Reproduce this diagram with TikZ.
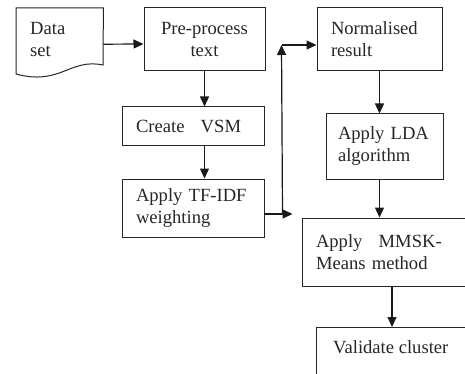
\documentclass[tikz,border=0pt]{standalone}
\usepackage{fontspec}
\setmainfont{Liberation Serif}
\usetikzlibrary{arrows.meta,calc}
\begin{document}
\begin{tikzpicture}[x=1pt,y=-1pt,
  every node/.style={font=\fontsize{18.6}{22}\selectfont, text=black!85},
  box/.style={draw=black!85, line width=1pt, rectangle, inner ysep=0pt},
  lbox/.style={box, align=left, inner xsep=14pt},
  cbox/.style={box, align=center},
  conn/.style={line width=1.2pt, black!90, -{Triangle[length=10pt,width=9pt]}},
  plain/.style={line width=1.2pt, black!90}]
\useasboundingbox (0,0) rectangle (465,374);
\clip (0,0) rectangle (465,374);
% Data set (document shape)
\node[rectangle, minimum width=87pt, minimum height=57pt, inner sep=0pt, anchor=north west] (data) at (16,8) {};
\draw[line width=1pt, black!85] (data.north west) -- (data.north east) -- (103,65)
  .. controls (70,58) and (60,86) .. (16,74) -- cycle;
\node[anchor=base west, inner sep=0pt, align=left] (datatxt) at (30,57) {Data\\set};
% boxes
\node[cbox, minimum width=121pt, minimum height=63pt] (pre) at (204.5,39.5) {Pre-process\\text};
\node[lbox, minimum width=125pt, minimum height=63pt, text width=97pt] (norm) at (379.5,39.5) {Normalised\\result};
\node[lbox, minimum width=142pt, minimum height=39pt, text width=114pt] (vsm) at (193,126.5) {Create\hspace{10pt} VSM};
\node[lbox, minimum width=142pt, minimum height=58pt, text width=114pt] (tfidf) at (193,208) {Apply TF-IDF\\weighting};
\node[lbox, inner xsep=12pt, minimum width=117pt, minimum height=65pt, text width=93pt] (lda) at (384.5,146.5) {Apply LDA\\algorithm};
\node[lbox, minimum width=163pt, minimum height=68pt, text width=135pt] (mmsk) at (383.5,252) {Apply\hspace{10pt} MMSK-\\Means method};
\node[box, minimum width=164pt, minimum height=63pt, anchor=north west] (valid) at (316,327) {};
\node[anchor=base west, inner sep=0pt] (validtxt) at (333,353) {Validate cluster};
% connectors
\draw[conn] ($(data.east)+(0,7.5)$) -- ($(pre.west)+(0,4.5)$);
\draw[conn] (pre.south) -- (pre.south |- vsm.north);
\draw[conn] (vsm.south -| pre.south) -- (tfidf.north -| pre.south);
\coordinate (j1) at ($(tfidf.east)+(18,6)$);
\coordinate (j2) at ($(norm.west)+(-35,5.5)$);
\coordinate (jend) at ($(tfidf.east)+(28,6)$);
\draw[conn] ($(tfidf.east)+(0,6)$) -- (jend);
\draw[conn] (j1) -- (j2);
\draw[conn] (j2) -- ($(norm.west)+(0,5.5)$);
\draw[conn] (norm.south) -- (norm.south |- lda.north);
\draw[conn] (lda.south -| norm.south) -- (mmsk.north -| norm.south);
\coordinate (m1) at ($(mmsk.south)+(8.5,0)$);
\draw[conn] (m1) -- (m1 |- valid.north);
\end{tikzpicture}
\end{document}
